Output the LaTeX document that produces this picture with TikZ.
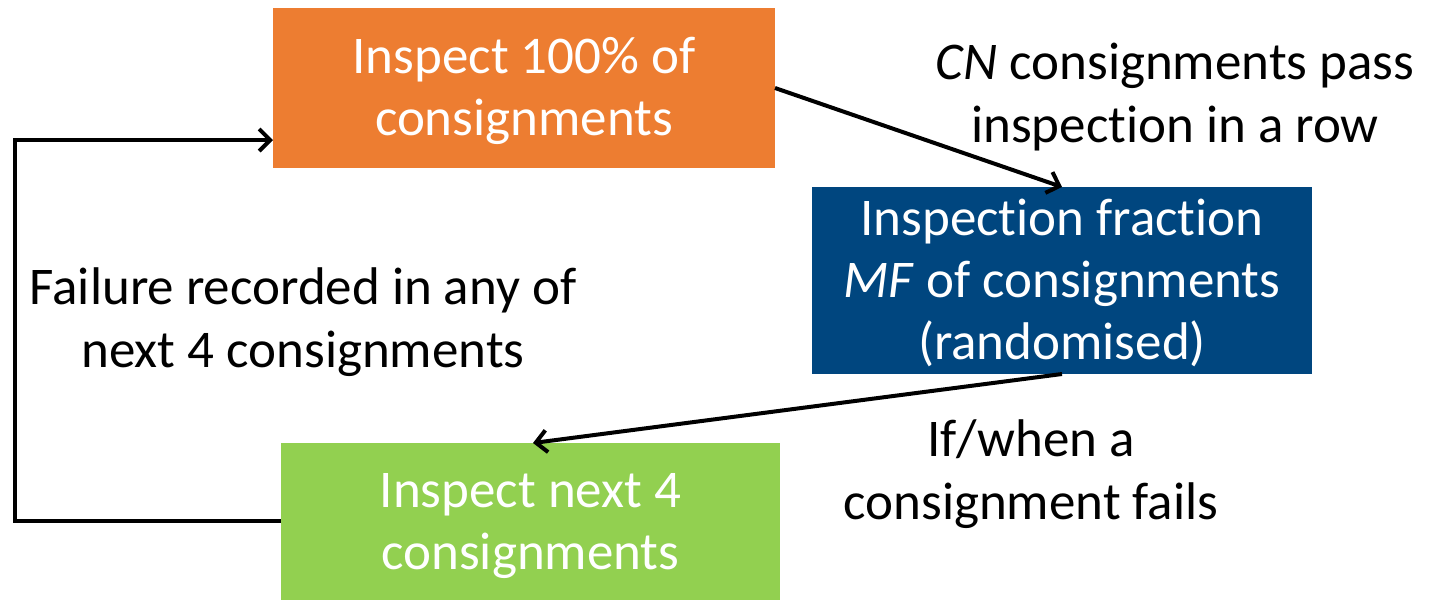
\documentclass[tikz,border=0pt]{standalone}
\usepackage{fontspec}
\setmainfont{Carlito}[RawFeature={-liga;-clig;-calt;-dlig}]
\usetikzlibrary{arrows.meta}
\definecolor{orangebox}{HTML}{ED7D31}
\definecolor{bluebox}{HTML}{00467F}
\definecolor{greenbox}{HTML}{92D050}
\begin{document}
\begin{tikzpicture}[x=1pt,y=-1pt,
  box/.style={inner sep=0pt, outer sep=0pt, text=white, align=center, font=\fontsize{53}{62}\selectfont},
  lbl/.style={inner sep=0pt, align=center, font=\fontsize{53}{63}\selectfont},
  conn/.style={line width=4pt, -{Straight Barb[length=11pt,width=22pt,line width=4pt]}}]
\useasboundingbox (0,0) rectangle (1435,600);
\fill[orangebox] (273,8) rectangle (775,168);
\fill[bluebox] (812,187) rectangle (1312,374);
\fill[greenbox] (281,443) rectangle (780,600);
\node[box, minimum width=502pt, minimum height=160pt] (a) at (524,91) {Inspect 100\% of\\consignments};
\node[box, minimum width=500pt, minimum height=187pt] (b) at (1062,283) {Inspection fraction\\\textit{MF} of consignments\\(randomised)};
\node[box, minimum width=499pt, minimum height=157pt] (c) at (530.5,526) {Inspect next 4\\consignments};
\node[lbl] (l1) at (1175,97) {\textit{CN} consignments pass\\inspection in a row};
\node[lbl] (l2) at (303,322) {Failure recorded in any of\\next 4 consignments};
\node[lbl] (l3) at (1031,474) {If/when a\\consignment fails};
\coordinate (a1) at (775,88);
\coordinate (b1) at (1062,187);
\coordinate (b2) at (1062,374);
\coordinate (c1) at (533,443);
\coordinate (p1) at (15,521);
\coordinate (p2) at (15,140);
\draw[conn] (a1) -- (b1);
\draw[conn] (b2) -- (c1);
\draw[conn] (c.west |- p1) -- (p1) -- (p2) -- (a.west |- p2);
\end{tikzpicture}
\end{document}
